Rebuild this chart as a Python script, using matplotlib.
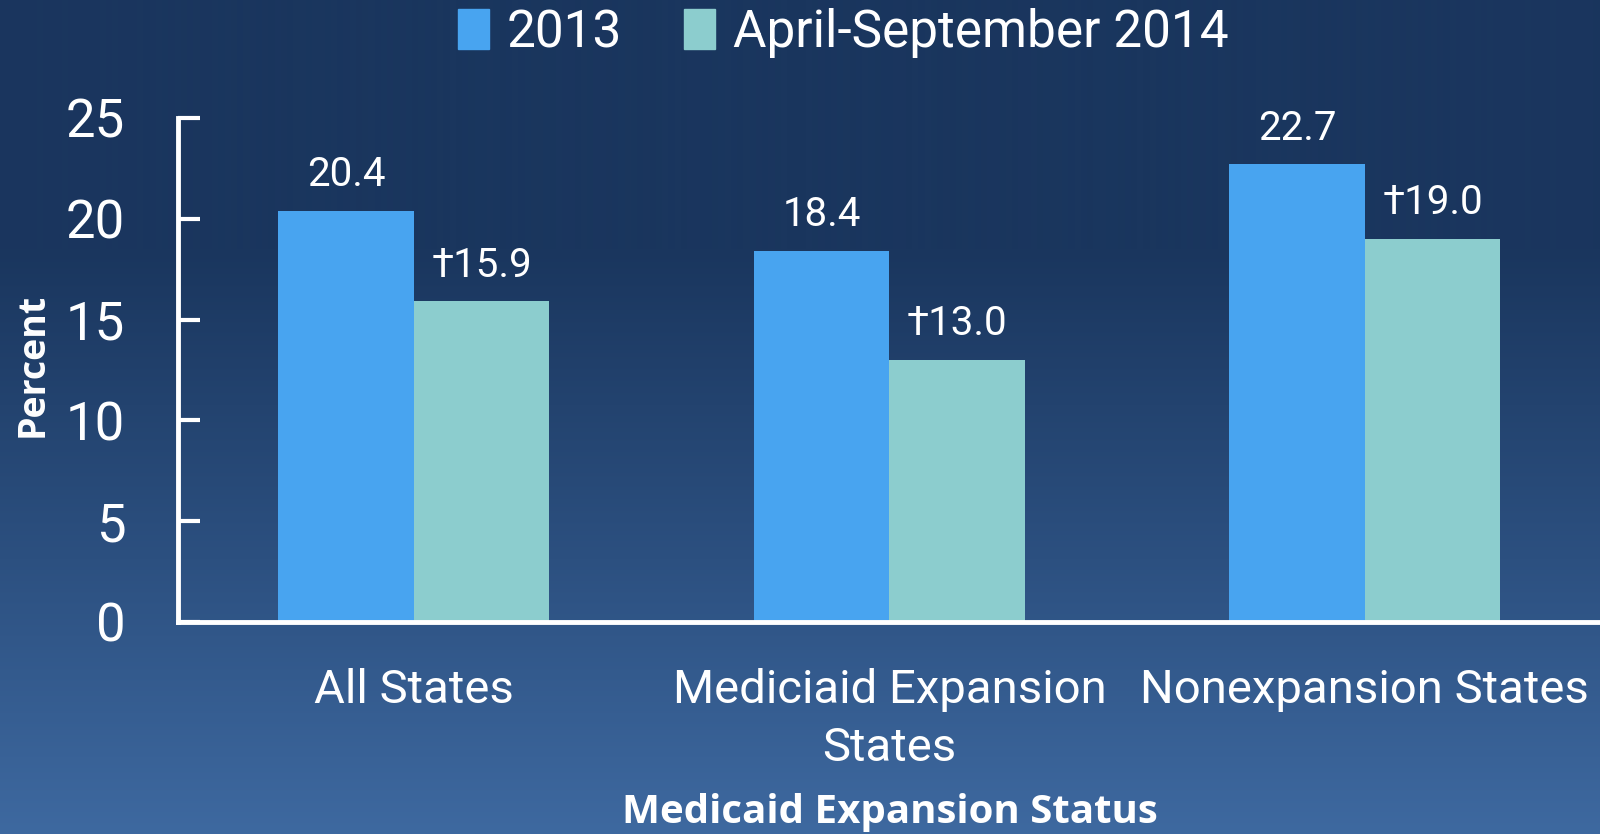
import numpy as np
import matplotlib
matplotlib.use("Agg")
import matplotlib.pyplot as plt
from matplotlib.patches import Patch

categories = ["All States", "Mediciaid Expansion\nStates", "Nonexpansion States"]
series_names = ["2013", "April-September 2014"]
values_2013 = [20.4, 18.4, 22.7]
values_2014 = [15.9, 13.0, 19.0]
labels_2013 = ["20.4", "18.4", "22.7"]
labels_2014 = ["\u202015.9", "\u202013.0", "\u202019.0"]
yticks = [0, 5, 10, 15, 20, 25]

c2013 = "#48a4f0"
c2014 = "#8ccdce"
W = "white"
plt.rcParams["font.family"] = ["Roboto", "DejaVu Sans"]

fig = plt.figure(figsize=(16, 8.34), dpi=100)

# background gradient
bg = fig.add_axes([0, 0, 1, 1], zorder=-10)
stops_y = np.array([0.0, 0.30, 0.67, 1.0])
stops_c = np.array([[26, 54, 94], [26, 54, 94], [44, 80, 128], [62, 105, 160]]) / 255.0
yy = np.linspace(0, 1, 834)
grad = np.stack([np.interp(yy, stops_y, stops_c[:, k]) for k in range(3)], axis=-1)
bg.imshow(grad[:, None, :], aspect="auto", extent=[0, 1, 1, 0])
bg.set_axis_off()

# axes: left spine x=178, top y=118, bottom y=622
ax = fig.add_axes([178 / 1600, 1 - 622 / 834, 1 - 178 / 1600 + 0.01, (622 - 118) / 834])
ax.patch.set_alpha(0)
x = np.arange(len(categories))
w = 0.285
b1 = ax.bar(x - w / 2, values_2013, w, color=c2013, label=series_names[0])
b2 = ax.bar(x + w / 2, values_2014, w, color=c2014, label=series_names[1])
ax.set_xlim(-0.496, 2.528)
ax.set_ylim(0, 25)
ax.set_yticks(yticks)
ax.set_yticklabels([str(t) for t in yticks], fontsize=38, color=W)
ax.set_xticks(x)
ax.set_xticklabels(categories, fontsize=34, color=W, linespacing=1.4)
ax.tick_params(axis="y", direction="in", length=16, width=3, color=W, pad=38)
ax.tick_params(axis="x", length=0, pad=33)
for s in ["top", "right"]:
    ax.spines[s].set_visible(False)
for s in ["left", "bottom"]:
    ax.spines[s].set_color(W)
    ax.spines[s].set_linewidth(3.5)

for rect, lab in zip(b1, labels_2013):
    ax.annotate(lab, (rect.get_x() + rect.get_width() / 2, rect.get_height()),
                xytext=(0, 12), textcoords="offset points", ha="center", va="bottom",
                fontsize=29, color=W)
for rect, lab in zip(b2, labels_2014):
    ax.annotate(lab, (rect.get_x() + rect.get_width() / 2, rect.get_height()),
                xytext=(0, 12), textcoords="offset points", ha="center", va="bottom",
                fontsize=29, color=W)

fig.text(33 / 1600, 1 - 365 / 834, "Percent", rotation=90, ha="center", va="center",
         fontsize=27, fontweight="bold", color=W, family="Open Sans")
fig.text(890 / 1600, 1 - 813 / 834, "Medicaid Expansion Status", ha="center", va="center",
         fontsize=29, fontweight="bold", color=W, family="Open Sans")

handles = [Patch(color=c2013), Patch(color=c2014)]
leg = fig.legend(handles, series_names, loc="center", bbox_to_anchor=(843 / 1600, 1 - 33 / 834),
                 ncol=2, frameon=False, fontsize=37, labelcolor=W, handlelength=0.6,
                 handleheight=0.8, handletextpad=0.35, columnspacing=1.2)

fig.savefig("out.png", dpi=100)
